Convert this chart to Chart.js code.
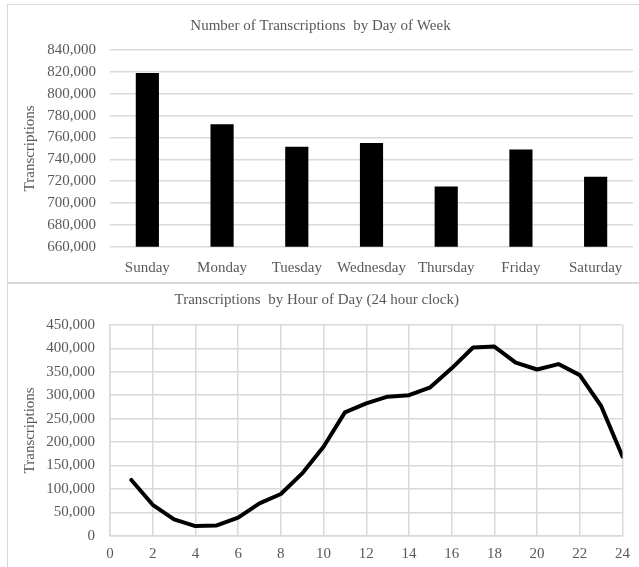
<!DOCTYPE html>
<html>
<head>
<meta charset="utf-8">
<script src="https://cdn.jsdelivr.net/npm/chart.js@4"></script>
<style>
  html, body { margin: 0; padding: 0; background: #fff; overflow: hidden; }
  .panel { position: absolute; border: 1px solid #d9d9d9; background: #fff; }
  #p1 { left: 7px; top: 4px; width: 631px; height: 277px; }
  #p2 { left: 7px; top: 283px; width: 631px; height: 283px; }
  canvas { display: block; }
</style>
</head>
<body>
<div class="panel" id="p1"><canvas id="dayChart" width="631" height="277"></canvas></div>
<div class="panel" id="p2"><canvas id="hourChart" width="631" height="283"></canvas></div>
<script>
// data
const days = ['Sunday', 'Monday', 'Tuesday', 'Wednesday', 'Thursday', 'Friday', 'Saturday'];
const dayCounts = [819000, 772000, 751500, 755000, 715000, 749000, 724000];
const dayTicks = { min: 660000, max: 840000, step: 20000 };

const hours = [1, 2, 3, 4, 5, 6, 7, 8, 9, 10, 11, 12, 13, 14, 15, 16, 17, 18, 19, 20, 21, 22, 23, 24];
const hourCounts = [119000, 66000, 35000, 20500, 22000, 38500, 69000, 89000, 133000, 190000, 263500, 282500,
  297000, 300000, 317000, 357500, 402000, 404000, 369500, 355000, 366500, 343000, 277000, 169000];
const hourTicks = { min: 0, max: 24, step: 2 };
const hourValueTicks = { min: 0, max: 450000, step: 50000 };

const textColor = '#595959';
const gridColor = '#d9d9d9';

Chart.defaults.font.family = "'Liberation Serif', 'Times New Roman', serif";
Chart.defaults.font.size = 15;
Chart.defaults.color = textColor;

const fmt = v => Number(v).toLocaleString('en-US');

new Chart(document.getElementById('dayChart'), {
  type: 'bar',
  data: {
    labels: days,
    datasets: [{
      label: 'Transcriptions',
      data: dayCounts,
      backgroundColor: '#000',
      borderWidth: 0,
      barPercentage: 0.31,
      categoryPercentage: 1
    }]
  },
  options: {
    responsive: false,
    animation: false,
    layout: { padding: { left: 0, right: 6, top: 0, bottom: 0 } },
    plugins: {
      legend: { display: false },
      tooltip: { enabled: false },
      title: {
        display: true,
        text: 'Number of Transcriptions  by Day of Week',
        color: textColor,
        font: { size: 15, weight: 'normal' },
        padding: { top: 12, bottom: 15 }
      }
    },
    scales: {
      x: {
        grid: { display: false },
        border: { display: false },
        ticks: { padding: 4, color: textColor, maxRotation: 0 },
        afterFit: s => { s.height = 35.3; }
      },
      y: {
        min: dayTicks.min,
        max: dayTicks.max,
        border: { display: false },
        grid: { color: gridColor, lineWidth: 1.5, drawTicks: false },
        ticks: { stepSize: dayTicks.step, padding: 14, color: textColor, callback: fmt },
        title: { display: true, text: 'Transcriptions', color: textColor, font: { size: 15 }, padding: { top: 13, bottom: 0 } },
        afterFit: s => { s.width = 102; }
      }
    }
  }
});

new Chart(document.getElementById('hourChart'), {
  type: 'line',
  data: {
    datasets: [{
      label: 'Transcriptions',
      data: hours.map((h, i) => ({ x: h, y: hourCounts[i] })),
      borderColor: '#000',
      borderWidth: 4,
      borderJoinStyle: 'round',
      borderCapStyle: 'round',
      pointRadius: 0,
      tension: 0,
      fill: false
    }]
  },
  options: {
    responsive: false,
    animation: false,
    layout: { padding: { left: 0, right: 13.5, top: 0, bottom: 0 } },
    plugins: {
      legend: { display: false },
      tooltip: { enabled: false },
      title: {
        display: true,
        text: 'Transcriptions  by Hour of Day (24 hour clock)',
        color: textColor,
        font: { size: 15, weight: 'normal' },
        padding: { top: 7, bottom: 16 }
      }
    },
    scales: {
      x: {
        type: 'linear',
        min: hourTicks.min,
        max: hourTicks.max,
        border: { color: gridColor, width: 1.5 },
        grid: { color: gridColor, lineWidth: 1.5, drawTicks: false },
        ticks: { stepSize: hourTicks.step, padding: 9, color: textColor, maxRotation: 0 },
        afterFit: s => { s.height = 31.3; }
      },
      y: {
        min: hourValueTicks.min,
        max: hourValueTicks.max,
        border: { color: gridColor, width: 1.5 },
        grid: { color: gridColor, lineWidth: 1.5, drawTicks: false },
        ticks: { stepSize: hourValueTicks.step, padding: 15, color: textColor, callback: fmt },
        title: { display: true, text: 'Transcriptions', color: textColor, font: { size: 15 }, padding: { top: 13, bottom: 0 } },
        afterFit: s => { s.width = 102; }
      }
    }
  }
});
</script>
</body>
</html>
